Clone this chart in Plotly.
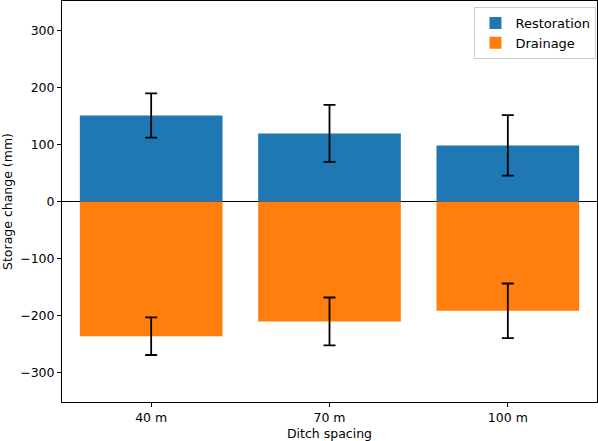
import plotly.graph_objects as go

categories = ["40 m", "70 m", "100 m"]
restoration = [151.5, 120, 99]
restoration_err = [39, 50, 53]
drainage = [-236, -210, -191.5]
drainage_err = [33, 42, 48]

FONT = "DejaVu Sans"

fig = go.Figure()
fig.add_trace(go.Bar(
    x=[0, 1, 2], y=restoration, name="Restoration", width=0.8,
    marker=dict(color="#1f77b4", line=dict(width=0)),
    error_y=dict(type="data", array=restoration_err, color="black", thickness=1.8, width=6),
))
fig.add_trace(go.Bar(
    x=[0, 1, 2], y=drainage, name="Drainage", width=0.8,
    marker=dict(color="#ff7f0e", line=dict(width=0)),
    error_y=dict(type="data", array=drainage_err, color="black", thickness=1.8, width=6),
))

fig.update_layout(
    width=598, height=441,
    margin=dict(l=62, r=1, t=1, b=39),
    barmode="overlay",
    plot_bgcolor="white", paper_bgcolor="white",
    font=dict(family=FONT, size=12.5, color="black"),
    showlegend=True,
    legend=dict(
        x=0.999, y=0.985, xanchor="right", yanchor="top",
        bgcolor="white", bordercolor="#cccccc", borderwidth=1,
        font=dict(family=FONT, size=13), tracegroupgap=0, itemwidth=30,
    ),
)
fig.update_xaxes(
    range=[-0.5, 2.5], tickmode="array", tickvals=[0, 1, 2], ticktext=categories,
    showline=True, linecolor="black", linewidth=1, mirror=True,
    ticks="outside", ticklen=4, tickcolor="black", showgrid=False, zeroline=False,
    title=dict(text="Ditch spacing", font=dict(size=12.5), standoff=5),
)
fig.update_yaxes(
    range=[-351.5, 352.5], tickmode="array", tickvals=[-300, -200, -100, 0, 100, 200, 300],
    showline=True, linecolor="black", linewidth=1, mirror=True,
    ticks="outside", ticklen=4, tickcolor="black", showgrid=False,
    zeroline=True, zerolinecolor="black", zerolinewidth=1,
    title=dict(text="Storage change (mm)", font=dict(size=12.5), standoff=6),
)

fig.write_html("out.html", config={"displayModeBar": False},
               post_script="document.body.style.margin='0';")
